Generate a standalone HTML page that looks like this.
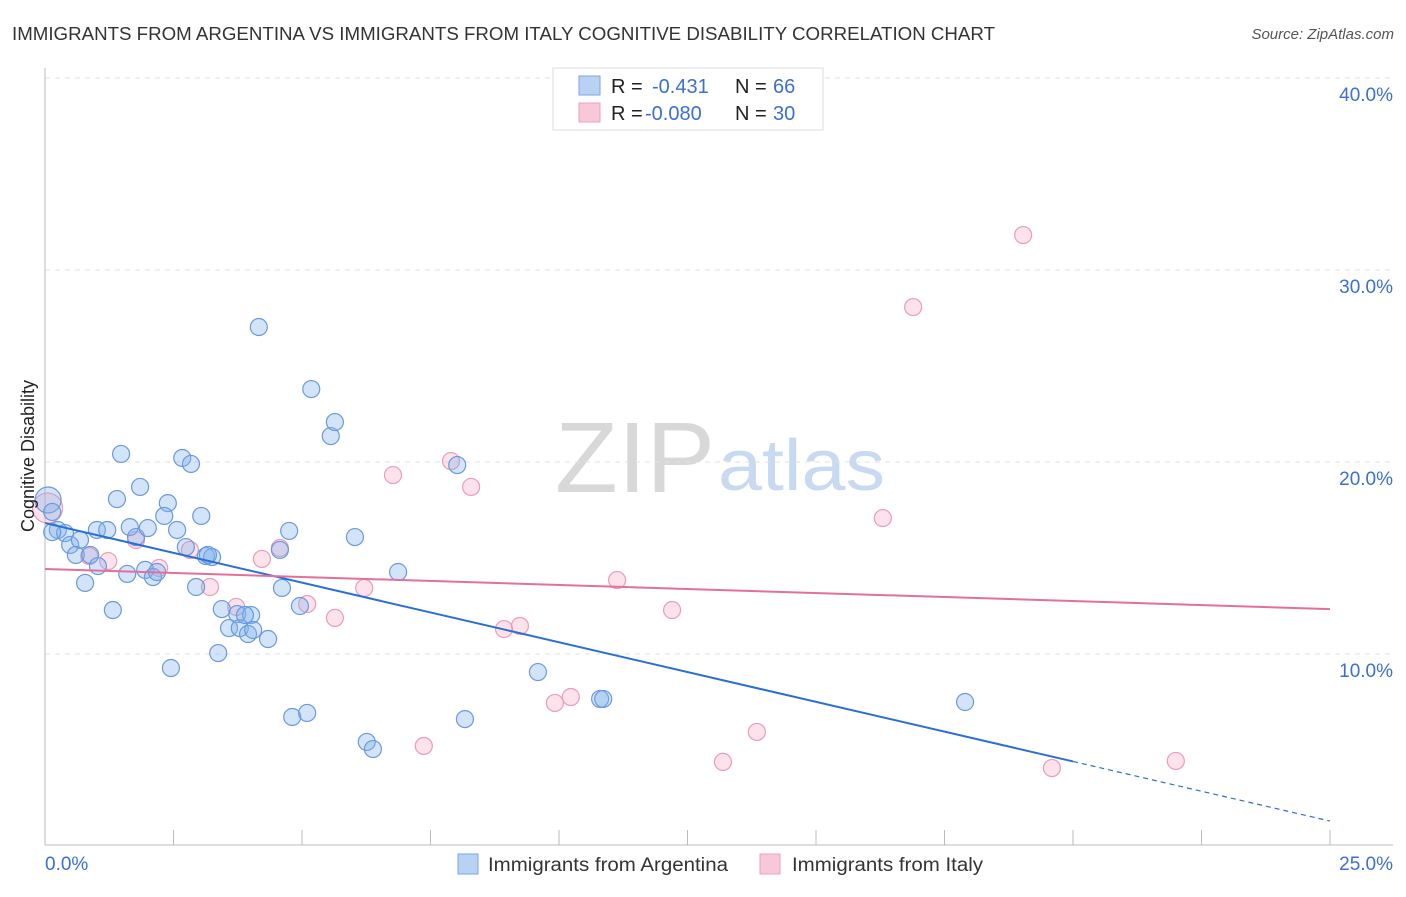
<!DOCTYPE html>
<html><head><meta charset="utf-8"><style>
body{margin:0;background:#fff;font-family:"Liberation Sans",sans-serif}
svg text{font-family:"Liberation Sans",sans-serif}
</style></head><body>
<svg id="c" width="1406" height="892" xmlns="http://www.w3.org/2000/svg">
<text x="12" y="40" font-size="18" fill="#333" textLength="983" lengthAdjust="spacingAndGlyphs">IMMIGRANTS FROM ARGENTINA VS IMMIGRANTS FROM ITALY COGNITIVE DISABILITY CORRELATION CHART</text>
<text x="1394" y="39" font-size="15" fill="#555" font-style="italic" text-anchor="end">Source: ZipAtlas.com</text>
<text x="555" y="492" font-size="100" fill="#d8d8d8" font-family="Liberation Serif" textLength="160" lengthAdjust="spacingAndGlyphs">ZIP</text>
<text x="718" y="490" font-size="72" fill="#c8daf2" textLength="167" lengthAdjust="spacingAndGlyphs">atlas</text>
<g id="grid"></g><g id="axes"></g><g id="marks"></g>
<text transform="translate(34,456) rotate(-90)" font-size="18" fill="#222" text-anchor="middle">Cognitive Disability</text>
<g>
<rect x="553" y="68" width="270" height="62" fill="#fff" stroke="#ddd"/>
<rect x="579" y="76" width="21" height="19" fill="#b8d2f4" stroke="#7aa6e0"/>
<rect x="579" y="103" width="21" height="19" fill="#f8c8d8" stroke="#eea0bb"/>
<text x="611" y="93" font-size="20" fill="#222">R = <tspan x="652" fill="#3b6fd4">-0.431</tspan><tspan x="735" fill="#222">N = </tspan><tspan x="773" fill="#3b6fd4">66</tspan></text>
<text x="611" y="120" font-size="20" fill="#222">R = <tspan x="645" fill="#3b6fd4">-0.080</tspan><tspan x="735" fill="#222">N = </tspan><tspan x="773" fill="#3b6fd4">30</tspan></text>
</g>
<g>
<rect x="458" y="854" width="20" height="20" fill="#b8d2f4" stroke="#7aa6e0"/>
<text x="488" y="871" font-size="19" fill="#333" textLength="240" lengthAdjust="spacingAndGlyphs">Immigrants from Argentina</text>
<rect x="760" y="854" width="20" height="20" fill="#f8c8d8" stroke="#eea0bb"/>
<text x="792" y="871" font-size="19" fill="#333" textLength="191" lengthAdjust="spacingAndGlyphs">Immigrants from Italy</text>
</g>
</svg>
<script>
const blueX=[0.06,0.14,0.25,0.39,0.49,0.68,0.60,0.88,0.78,1.01,1.21,1.03,1.32,1.40,1.48,1.65,1.60,1.85,1.77,1.95,2.00,2.10,2.18,2.39,2.32,2.45,2.57,2.67,2.84,2.74,2.94,3.04,3.13,3.25,3.37,3.44,3.58,3.74,3.79,3.95,4.01,4.05,4.34,4.16,4.61,4.57,4.75,4.81,4.96,5.10,5.18,5.56,5.64,6.03,6.26,6.38,6.87,8.02,8.17,9.59,10.80,10.86,17.90,3.17,3.89,0.14];
const blueY=[18.02,17.40,16.46,16.30,15.68,15.94,15.16,15.16,13.70,16.46,16.46,14.58,12.29,18.07,20.42,16.61,14.17,18.70,16.09,14.38,16.56,14.01,14.27,17.86,17.19,9.27,16.46,20.21,19.90,15.57,13.49,17.19,15.10,15.05,10.05,12.34,11.35,12.08,11.35,11.04,12.03,11.25,10.78,27.03,13.44,15.42,16.41,6.72,12.50,6.93,23.80,21.35,22.08,16.09,5.42,5.05,14.27,19.84,6.61,9.06,7.66,7.66,7.50,15.16,12.03,16.35];
const pinkX=[0.05,0.86,1.23,1.77,2.22,2.82,3.21,3.72,4.22,4.57,5.10,5.64,6.21,6.77,7.37,7.90,8.29,8.93,9.24,9.92,10.23,11.13,12.20,13.19,13.85,16.30,16.89,19.03,19.59,22.00];
const pinkY=[17.60,15.10,14.84,15.94,14.48,15.42,13.49,12.45,14.95,15.52,12.60,11.88,13.44,19.32,5.21,20.05,18.70,11.30,11.46,7.45,7.76,13.85,12.29,4.38,5.94,17.08,28.07,31.82,4.06,4.43];
const blueTrend=[16.82,1.30]; const blueSolidEnd=20;
const pinkTrend=[14.43,12.34];
const yTicks=[10,20,30,40];
const yTickLabels=["10.0%","20.0%","30.0%","40.0%"];
const xTicks=[0,2.5,5,7.5,10,12.5,15,17.5,20,22.5,25];

const NS="http://www.w3.org/2000/svg";
const sx=v=>45+v*51.4, sy=v=>846-v*19.2;
function mk(p,t,a){const e=document.createElementNS(NS,t);for(const k in a)e.setAttribute(k,a[k]);document.getElementById(p).appendChild(e);return e;}
yTicks.forEach((t,i)=>{
  const g=mk('grid','line',{x1:45,x2:1393,y1:sy(t),y2:sy(t),stroke:'#e2e2e2','stroke-dasharray':'5,5'});
  
  
  const l=mk('axes','text',{x:1393,y:sy(t)+23,'font-size':19,fill:'#3b6fd4','text-anchor':'end'});
  l.textContent=yTickLabels[i];
  
  
});
const ax=mk('axes','line',{x1:45,x2:1393,y1:845,y2:845,stroke:'#bbb'});


const ay=mk('axes','line',{x1:45,x2:45,y1:68,y2:845,stroke:'#bbb'});


xTicks.forEach(t=>{
  const k=mk('axes','line',{x1:sx(t),x2:sx(t),y1:830,y2:845,stroke:'#bbb'});
  
  
});
const xl0=mk('axes','text',{x:45,y:870,'font-size':19,fill:'#3b6fd4'});xl0.textContent='0.0%';


const xl1=mk('axes','text',{x:1393,y:870,'font-size':19,fill:'#3b6fd4','text-anchor':'end'});xl1.textContent='25.0%';



pinkX.forEach((x,i)=>{
  const c=mk('marks','circle',{cx:sx(x),cy:sy(pinkY[i]),r:i==0?15:8.5,fill:'rgba(244,160,190,0.3)',stroke:'#eb9cb8','stroke-width':1.2});
  
  
});
blueX.forEach((x,i)=>{
  const c=mk('marks','circle',{cx:sx(x),cy:sy(blueY[i]),r:i==0?13:8.5,fill:'rgba(130,178,236,0.35)',stroke:'#6a9ade','stroke-width':1.2});
  
  
});
const bAt=x=>blueTrend[0]+(blueTrend[1]-blueTrend[0])*x/25;
const bl=mk('marks','line',{x1:sx(0),y1:sy(bAt(0)),x2:sx(blueSolidEnd),y2:sy(bAt(blueSolidEnd)),stroke:'#2a6fd6','stroke-width':2});


const bd=mk('marks','line',{x1:sx(blueSolidEnd),y1:sy(bAt(blueSolidEnd)),x2:sx(25),y2:sy(bAt(25)),stroke:'#2a6fd6','stroke-width':1.2,'stroke-dasharray':'5,4'});


const pl=mk('marks','line',{x1:sx(0),y1:sy(pinkTrend[0]),x2:sx(25),y2:sy(pinkTrend[1]),stroke:'#e4709a','stroke-width':2});


</script>
</body></html>
